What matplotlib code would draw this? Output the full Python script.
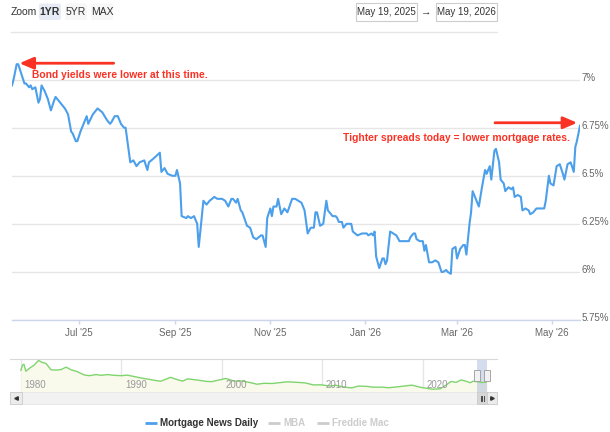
import matplotlib
matplotlib.use("Agg")
import matplotlib.pyplot as plt
import matplotlib.dates as mdates
import matplotlib.transforms as mtransforms
from matplotlib.patches import Rectangle, FancyBboxPatch
import numpy as np
import pandas as pd

plt.rcParams["font.family"] = ["Liberation Sans", "DejaVu Sans"]

# =====================================================================================
# Data
# =====================================================================================

dates = [
    "2025-05-19", "2025-05-20", "2025-05-22", "2025-05-23", "2025-05-25", "2025-05-27",
    "2025-05-28", "2025-05-30", "2025-05-31", "2025-06-01", "2025-06-03", "2025-06-05",
    "2025-06-06", "2025-06-07", "2025-06-09", "2025-06-11", "2025-06-13", "2025-06-15",
    "2025-06-16", "2025-06-18", "2025-06-20", "2025-06-22", "2025-06-24", "2025-06-26",
    "2025-06-27", "2025-06-29", "2025-06-30", "2025-07-02", "2025-07-04", "2025-07-06",
    "2025-07-07", "2025-07-10", "2025-07-13", "2025-07-16", "2025-07-19", "2025-07-21",
    "2025-07-22", "2025-07-24", "2025-07-26", "2025-07-28", "2025-07-30", "2025-07-31",
    "2025-08-02", "2025-08-03", "2025-08-05", "2025-08-07", "2025-08-09", "2025-08-12",
    "2025-08-14", "2025-08-15", "2025-08-18", "2025-08-22", "2025-08-23", "2025-08-25",
    "2025-08-27", "2025-08-30", "2025-09-01", "2025-09-02", "2025-09-04", "2025-09-05",
    "2025-09-08", "2025-09-09", "2025-09-11", "2025-09-13", "2025-09-15", "2025-09-16",
    "2025-09-19", "2025-09-21", "2025-09-23", "2025-09-26", "2025-09-28", "2025-10-01",
    "2025-10-03", "2025-10-05", "2025-10-07", "2025-10-08", "2025-10-10", "2025-10-11",
    "2025-10-13", "2025-10-14", "2025-10-17", "2025-10-19", "2025-10-21", "2025-10-23",
    "2025-10-26", "2025-10-27", "2025-10-29", "2025-10-30", "2025-11-01", "2025-11-02",
    "2025-11-03", "2025-11-05", "2025-11-06", "2025-11-08", "2025-11-10", "2025-11-12",
    "2025-11-15", "2025-11-17", "2025-11-19", "2025-11-21", "2025-11-23", "2025-11-25",
    "2025-11-27", "2025-11-29", "2025-11-30", "2025-12-01", "2025-12-03", "2025-12-05",
    "2025-12-07", "2025-12-08", "2025-12-09", "2025-12-11", "2025-12-13", "2025-12-14",
    "2025-12-15", "2025-12-17", "2025-12-18", "2025-12-20", "2025-12-23", "2025-12-24",
    "2025-12-27", "2025-12-30", "2026-01-02", "2026-01-03", "2026-01-05", "2026-01-06",
    "2026-01-07", "2026-01-08", "2026-01-10", "2026-01-12", "2026-01-13", "2026-01-14",
    "2026-01-15", "2026-01-17", "2026-01-19", "2026-01-21", "2026-01-23", "2026-01-26",
    "2026-01-29", "2026-01-30", "2026-02-01", "2026-02-02", "2026-02-03", "2026-02-05",
    "2026-02-07", "2026-02-08", "2026-02-09", "2026-02-11", "2026-02-13", "2026-02-15",
    "2026-02-17", "2026-02-19", "2026-02-20", "2026-02-22", "2026-02-23", "2026-02-25",
    "2026-02-26", "2026-02-28", "2026-03-01", "2026-03-03", "2026-03-05", "2026-03-06",
    "2026-03-07", "2026-03-09", "2026-03-10", "2026-03-11", "2026-03-13", "2026-03-15",
    "2026-03-17", "2026-03-19", "2026-03-20", "2026-03-22", "2026-03-23", "2026-03-25",
    "2026-03-26", "2026-03-28", "2026-03-29", "2026-03-31", "2026-04-01", "2026-04-03",
    "2026-04-05", "2026-04-06", "2026-04-07", "2026-04-09", "2026-04-11", "2026-04-12",
    "2026-04-14", "2026-04-16", "2026-04-17", "2026-04-19", "2026-04-21", "2026-04-23",
    "2026-04-26", "2026-04-27", "2026-04-29", "2026-04-30", "2026-05-02", "2026-05-04",
    "2026-05-06", "2026-05-08", "2026-05-09", "2026-05-11", "2026-05-13", "2026-05-15",
    "2026-05-16", "2026-05-17", "2026-05-19",
]

rates = [
    6.97, 7.00, 7.08, 7.08, 7.03, 6.98,
    6.98, 6.96, 6.97, 6.95, 6.96, 6.88,
    6.90, 6.97, 6.94, 6.90, 6.84, 6.89,
    6.91, 6.89, 6.87, 6.85, 6.82, 6.73,
    6.72, 6.68, 6.68, 6.73, 6.77, 6.81,
    6.77, 6.82, 6.85, 6.83, 6.79, 6.77,
    6.78, 6.81, 6.81, 6.77, 6.75, 6.75,
    6.63, 6.57, 6.58, 6.55, 6.57, 6.58,
    6.53, 6.57, 6.59, 6.62, 6.52, 6.54,
    6.51, 6.50, 6.50, 6.53, 6.46, 6.29,
    6.28, 6.29, 6.28, 6.29, 6.25, 6.13,
    6.37, 6.35, 6.37, 6.39, 6.38, 6.38,
    6.37, 6.34, 6.38, 6.38, 6.36, 6.38,
    6.32, 6.31, 6.24, 6.23, 6.18, 6.17,
    6.19, 6.19, 6.13, 6.28, 6.33, 6.29,
    6.34, 6.34, 6.38, 6.30, 6.33, 6.31,
    6.38, 6.38, 6.37, 6.36, 6.32, 6.20,
    6.23, 6.23, 6.31, 6.31, 6.24, 6.25,
    6.37, 6.32, 6.31, 6.29, 6.29, 6.28,
    6.26, 6.26, 6.23, 6.25, 6.25, 6.21,
    6.19, 6.20, 6.20, 6.19, 6.20, 6.19,
    6.21, 6.08, 6.02, 6.07, 6.07, 6.04,
    6.06, 6.21, 6.20, 6.19, 6.16, 6.16,
    6.16, 6.18, 6.20, 6.20, 6.17, 6.16,
    6.16, 6.11, 6.14, 6.05, 6.05, 6.06,
    6.05, 6.00, 6.00, 6.01, 6.00, 5.99,
    6.12, 6.13, 6.07, 6.12, 6.14, 6.14,
    6.09, 6.25, 6.31, 6.42, 6.38, 6.34,
    6.44, 6.53, 6.51, 6.55, 6.48, 6.63,
    6.64, 6.57, 6.48, 6.46, 6.42, 6.44,
    6.43, 6.44, 6.39, 6.40, 6.39, 6.32,
    6.33, 6.32, 6.30, 6.31, 6.33, 6.33,
    6.33, 6.37, 6.50, 6.46, 6.45, 6.55,
    6.56, 6.51, 6.48, 6.56, 6.57, 6.52,
    6.65, 6.68, 6.76,
]

# long history shown in the navigator strip
nav_years = [
    1980.0, 1980.15, 1980.3, 1980.5, 1980.9, 1981.3, 1981.75, 1982.1, 1982.5, 1983.0,
    1983.5, 1984.0, 1984.5, 1985.0, 1985.6, 1986.3, 1986.8, 1987.5, 1988.0, 1988.6,
    1989.3, 1990.0, 1990.6, 1991.3, 1992.0, 1992.6, 1993.4, 1993.9, 1994.9, 1995.6,
    1996.1, 1996.6, 1997.5, 1998.5, 1999.0, 2000.4, 2001.2, 2002.0, 2002.8, 2003.5,
    2004.2, 2005.0, 2006.5, 2007.5, 2008.3, 2009.1, 2009.8, 2010.8, 2011.3, 2012.0,
    2012.9, 2013.6, 2014.5, 2015.0, 2016.0, 2016.6, 2017.5, 2018.9, 2019.8, 2020.6,
    2021.0, 2021.7, 2022.3, 2022.8, 2023.3, 2023.8, 2024.3, 2024.7, 2025.0, 2025.5,
    2025.9, 2026.38,
]

nav_rates = [
    12.9, 15.6, 16.2, 12.4, 14.2, 15.6, 18.2, 17.2, 16.6, 13.2,
    13.0, 13.3, 14.6, 13.2, 12.2, 10.4, 10.0, 10.6, 10.2, 10.6,
    10.2, 10.0, 10.3, 9.5, 8.7, 8.2, 7.4, 7.0, 9.1, 7.8,
    7.1, 8.3, 7.7, 6.9, 6.8, 8.5, 7.1, 7.1, 6.3, 5.4,
    5.9, 5.8, 6.7, 6.4, 6.1, 5.0, 5.1, 4.4, 4.9, 4.0,
    3.4, 4.4, 4.2, 3.8, 3.8, 3.5, 4.0, 4.9, 3.7, 3.0,
    2.7, 2.9, 4.9, 6.9, 6.4, 7.7, 7.0, 6.2, 7.0, 6.7,
    6.3, 6.6,
]

y_ticks = [5.75, 6.0, 6.25, 6.5, 6.75, 7.0]
y_labels = ["5.75%", "6%", "6.25%", "6.5%", "6.75%", "7%"]
x_ticks = ["2025-07-01", "2025-09-01", "2025-11-01", "2026-01-01", "2026-03-01", "2026-05-01"]
nav_ticks = [1980, 1990, 2000, 2010, 2020]

zoom_buttons = ["1YR", "5YR", "MAX"]
range_from = "May 19, 2025"
range_to = "May 19, 2026"
legend_names = ["Mortgage News Daily", "MBA", "Freddie Mac"]

note_left = "Bond yields were lower at this time."
note_right = "Tighter spreads today = lower mortgage rates."

# =====================================================================================
# Styles
# =====================================================================================

LINE_BLUE = "#4c9fea"
NOTE_RED = "#fa3224"
GRID = "#e6e6e6"
AXIS = "#ccd6eb"
LABEL = "#666666"
TEXT = "#333333"
FADED = "#cccccc"

W, H = 610, 432
DPI = 100


def box(l, t, r, b):
    """pixel box (left, top, right, bottom) -> figure fraction rect"""
    return [l / W, 1 - b / H, (r - l) / W, (b - t) / H]


fig = plt.figure(figsize=(W / DPI, H / DPI), dpi=DPI)

# =====================================================================================
# Main chart
# =====================================================================================

x = pd.to_datetime(dates)
xn = mdates.date2num(x)
y = np.array(rates)

ax = fig.add_axes(box(12, 45, 580, 320))
ax.plot(xn, y, color=LINE_BLUE, lw=1.5, solid_joinstyle="round", zorder=3)
ax.set_xlim(xn[0], xn[-1])
ax.set_ylim(5.75, 7.18)

ax.set_yticks(y_ticks)
ax.set_yticklabels(y_labels)
ax.yaxis.tick_right()
ax.yaxis.grid(True, color=GRID, lw=1)
ax.tick_params(axis="y", length=0, pad=1.2, labelsize=7, labelcolor=LABEL)
for lbl in ax.get_yticklabels():
    lbl.set_transform(lbl.get_transform()
                      + mtransforms.ScaledTranslation(0, 3 / DPI, fig.dpi_scale_trans))

ax.set_xticks(mdates.date2num(pd.to_datetime(x_ticks)))
ax.xaxis.set_major_formatter(mdates.DateFormatter("%b '%y"))
ax.tick_params(axis="x", length=3, width=1, color=AXIS, pad=2.5,
               labelsize=7, labelcolor=LABEL)

for side in ["top", "left", "right"]:
    ax.spines[side].set_visible(False)
ax.spines["bottom"].set_color(AXIS)
ax.spines["bottom"].set_linewidth(1)
ax.spines["bottom"].set_zorder(2)

# red notes
ipk = int(np.argmax(y))
arrow = dict(arrowstyle="-|>,head_length=0.42,head_width=0.18", color=NOTE_RED,
             lw=2, mutation_scale=20, shrinkA=0, shrinkB=2)
ax.annotate("", xy=(xn[ipk], y[ipk]),
            xycoords=mtransforms.offset_copy(ax.transData, fig=fig, x=0, y=1, units="dots"),
            xytext=(97, 0), textcoords="offset pixels", arrowprops=arrow)
ax.annotate(note_left, xy=(xn[ipk], y[ipk]), xytext=(15, -11), textcoords="offset pixels",
            ha="left", va="center", color=NOTE_RED, fontsize=7.4, fontweight="bold")

ax.annotate("", xy=(xn[-1], y[-1]),
            xycoords=mtransforms.offset_copy(ax.transData, fig=fig, x=0, y=3, units="dots"),
            xytext=(-85, 0), textcoords="offset pixels", arrowprops=arrow)
ax.annotate(note_right, xy=(xn[-1], y[-1]), xytext=(-10, -12), textcoords="offset pixels",
            ha="right", va="center", color=NOTE_RED, fontsize=7.4, fontweight="bold")

# =====================================================================================
# Navigator
# =====================================================================================

def year_frac(ts):
    return ts.year + (ts.dayofyear - 1) / 365.25


nav = fig.add_axes(box(10, 359, 487, 392))
nav.set_xlim(year_frac(x[-1]) - 47.46, year_frac(x[-1]))
nav.set_ylim(1.2, 19.0)
nav.fill_between(nav_years, nav_rates, 1.2, color="#f9faec", lw=0)
nav.plot(nav_years, nav_rates, color="#7fd46e", lw=1)
for yr in nav_ticks:
    nav.axvline(yr, color=GRID, lw=1, zorder=0)
    nav.text(yr + 0.35, 0.2, str(yr), transform=nav.get_xaxis_transform(),
             ha="left", va="center", fontsize=7, color="#999999")
nav.axvspan(year_frac(x[0]), year_frac(x[-1]), color="#6685c2", alpha=0.28, lw=0)
blend = mtransforms.blended_transform_factory(nav.transData, nav.transAxes)
for edge in [year_frac(x[0]), year_frac(x[-1])]:
    nav.add_patch(Rectangle((edge - 0.3, 0.33), 0.6, 0.34, transform=blend,
                            fc="#f2f2f2", ec="#999999", lw=0.6, zorder=5, clip_on=False))
nav.set_xticks([])
nav.set_yticks([])
for s in nav.spines.values():
    s.set_visible(False)

# =====================================================================================
# Overlay: range selector, scrollbar, legend
# =====================================================================================

ov = fig.add_axes([0, 0, 1, 1])
ov.set_xlim(0, W)
ov.set_ylim(H, 0)
ov.axis("off")
ov.patch.set_visible(False)

ov.text(11, 12, "Zoom", fontsize=7.5, color=TEXT, va="center", ha="left")
btn_x = [(39, 61), (65, 87), (91, 113)]
for i, (name, (l, r)) in enumerate(zip(zoom_buttons, btn_x)):
    sel = i == 0
    ov.add_patch(FancyBboxPatch((l, 3.5), r - l, 16.5, boxstyle="round,pad=0,rounding_size=2",
                                fc="#e6ebf5" if sel else "#f7f7f7", ec="none"))
    ov.text((l + r) / 2, 12, name, fontsize=7.5, color=TEXT,
            fontweight="bold" if sel else "normal", ha="center", va="center")

for (l, r), label in zip([(356, 417), (436, 497)], [range_from, range_to]):
    ov.add_patch(Rectangle((l, 3), r - l, 18, fc="white", ec=FADED, lw=0.8))
    ov.text((l + r) / 2, 12, label, fontsize=7, color=TEXT, ha="center", va="center")
ov.text(426, 12, "\u2192", fontsize=7.5, color=TEXT, ha="center", va="center")
ov.plot([11, 497], [32, 32], color=GRID, lw=1)

# navigator frame and scrollbar
ov.plot([10, 497], [359, 359], color="#d9d9d9", lw=0.8)
ov.add_patch(Rectangle((10, 392), 487, 12, fc="#f2f2f2", ec="#e6e6e6", lw=0.6))
ov.add_patch(Rectangle((10, 392), 12, 12, fc="#ebebeb", ec="#cccccc", lw=0.6))
ov.add_patch(Rectangle((477, 392), 10, 12, fc="#d6d6d6", ec="#cccccc", lw=0.6))
ov.add_patch(Rectangle((487, 392), 10, 12, fc="#ebebeb", ec="#cccccc", lw=0.6))
ov.plot([16], [398], marker="<", ms=2.5, color=TEXT)
ov.plot([492], [398], marker=">", ms=2.5, color=TEXT)
for gx in [480.5, 482, 483.5]:
    ov.plot([gx, gx], [395.5, 400.5], color=TEXT, lw=0.6)

# legend
leg_x = [(145, 157, 160), (268, 280, 283), (317, 329, 332)]
for i, (name, (l0, l1, tx)) in enumerate(zip(legend_names, leg_x)):
    active = i == 0
    ov.plot([l0, l1], [423, 423], color=LINE_BLUE if active else FADED, lw=2,
            solid_capstyle="butt")
    ov.text(tx, 423, name, fontsize=7, fontweight="bold",
            color=TEXT if active else FADED, ha="left", va="center")

fig.savefig("out.png", dpi=DPI)
